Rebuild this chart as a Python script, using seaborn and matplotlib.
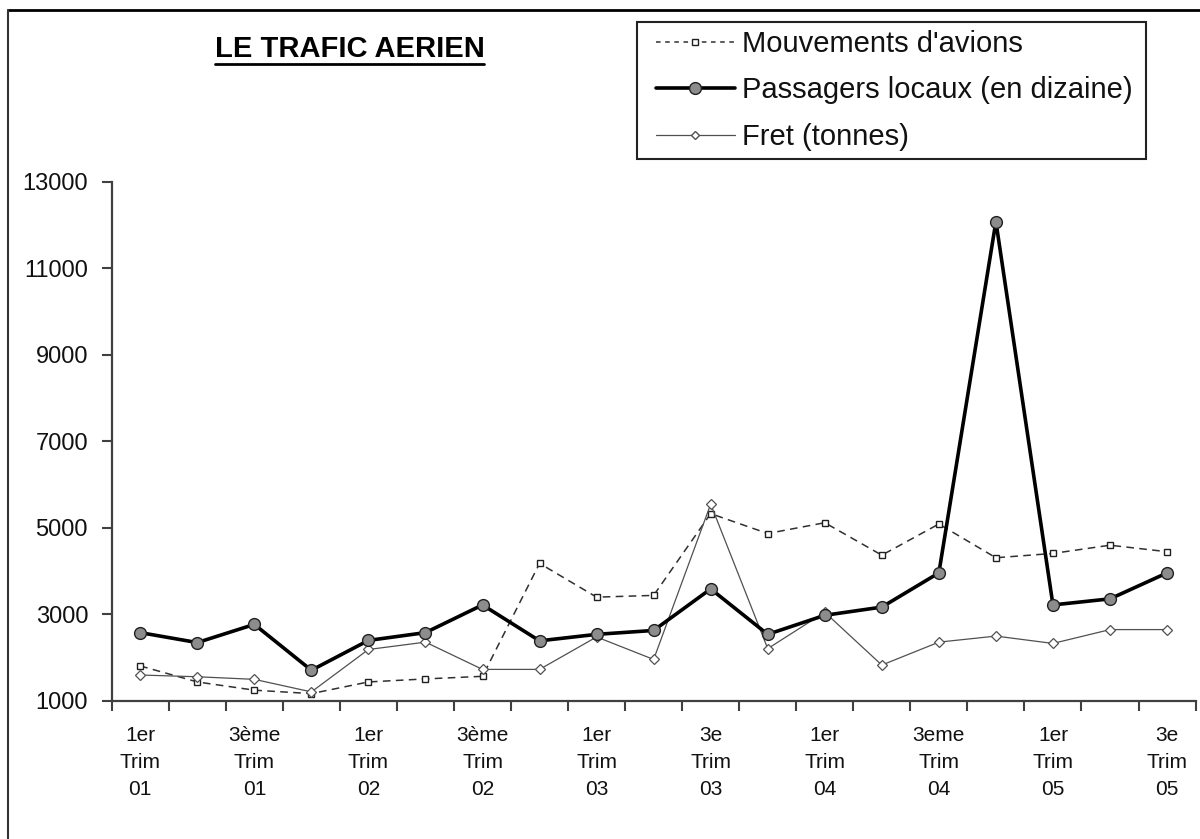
import numpy as np
import pandas as pd
import matplotlib
matplotlib.use("Agg")
import matplotlib.pyplot as plt
from matplotlib.lines import Line2D
from matplotlib.patches import Rectangle
import seaborn as sns

# --- data ---
quarters = ["1er\nTrim\n01", "2e\nTrim\n01", "3ème\nTrim\n01", "4e\nTrim\n01",
            "1er\nTrim\n02", "2e\nTrim\n02", "3ème\nTrim\n02", "4e\nTrim\n02",
            "1er\nTrim\n03", "2e\nTrim\n03", "3e\nTrim\n03", "4e\nTrim\n03",
            "1er\nTrim\n04", "2e\nTrim\n04", "3eme\nTrim\n04", "4e\nTrim\n04",
            "1er\nTrim\n05", "2e\nTrim\n05", "3e\nTrim\n05"]
mouvements = [1810, 1440, 1250, 1170, 1440, 1510, 1570, 4180, 3400, 3440,
              5330, 4870, 5120, 4370, 5090, 4310, 4410, 4600, 4450]
passagers = [2580, 2350, 2770, 1710, 2400, 2580, 3220, 2390, 2540, 2630,
             3590, 2540, 2980, 3170, 3960, 12080, 3220, 3360, 3960]
fret = [1600, 1560, 1500, 1210, 2190, 2360, 1730, 1730, 2480, 1960,
        5550, 2210, 3050, 1830, 2360, 2500, 2330, 2650, 2650]

legend_labels = ["Mouvements d'avions", "Passagers locaux (en dizaine)", "Fret (tonnes)"]
y_ticks = [1000, 3000, 5000, 7000, 9000, 11000, 13000]

df = pd.DataFrame({"pos": np.arange(len(quarters)),
                   "mouvements": mouvements,
                   "passagers": passagers,
                   "fret": fret})

sns.set_style("white")
plt.rcParams["font.family"] = ["Liberation Sans", "DejaVu Sans"]

fig = plt.figure(figsize=(12, 8.39), dpi=100)
ax = fig.add_axes([0.0931, 0.1645, 0.9032, 0.6189])

sns.lineplot(data=df, x="pos", y="mouvements", ax=ax, color="#303030",
             linewidth=1.1, linestyle=(0, (5, 3.5)), marker="s", markersize=5,
             markerfacecolor="white", markeredgecolor="#202020",
             markeredgewidth=1.0, label=legend_labels[0], zorder=3)
sns.lineplot(data=df, x="pos", y="fret", ax=ax, color="#505050",
             linewidth=0.9, marker="D", markersize=5,
             markerfacecolor="white", markeredgecolor="#505050",
             markeredgewidth=0.9, label=legend_labels[2], zorder=4)
sns.lineplot(data=df, x="pos", y="passagers", ax=ax, color="black",
             linewidth=2.6, marker="o", markersize=8.5,
             markerfacecolor="#8c8c8c", markeredgecolor="#202020",
             markeredgewidth=1.0, label=legend_labels[1], zorder=5)

ax.set_xlim(-0.5, len(quarters) - 0.5)
ax.set_ylim(1000, 13000)
ax.set_xlabel("")
ax.set_ylabel("")

# y axis
ax.set_yticks(y_ticks)
ax.set_yticklabels([str(v) for v in y_ticks])
ax.tick_params(axis="y", which="major", direction="out", length=7, width=1.5,
               color="#404040", pad=10, labelsize=17, labelcolor="#111111", left=True)

# x axis: ticks between categories, labels every other category
ax.set_xticks(np.arange(len(quarters) + 1) - 0.5)
ax.set_xticklabels([])
ax.tick_params(axis="x", which="major", direction="out", length=7, width=1.5,
               color="#404040", bottom=True)
ax.set_xticks(np.arange(0, len(quarters), 2), minor=True)
ax.set_xticklabels([quarters[i] for i in range(0, len(quarters), 2)], minor=True,
                   fontsize=15, linespacing=1.55, color="#111111")
ax.tick_params(axis="x", which="minor", length=0, pad=18, bottom=True)

for side in ["top", "right"]:
    ax.spines[side].set_visible(False)
for side in ["left", "bottom"]:
    ax.spines[side].set_color("#404040")
    ax.spines[side].set_linewidth(1.6)
ax.grid(False)

# legend in a plain box
handles = [
    Line2D([], [], color="#303030", linewidth=1.1, linestyle=(0, (3, 3)), marker="s",
           markersize=5, markerfacecolor="white", markeredgecolor="#202020"),
    Line2D([], [], color="black", linewidth=2.6, marker="o", markersize=8.5,
           markerfacecolor="#8c8c8c", markeredgecolor="#202020"),
    Line2D([], [], color="#505050", linewidth=0.9, marker="D", markersize=4,
           markerfacecolor="white", markeredgecolor="#505050"),
]
ax.legend(handles, legend_labels, loc="upper left",
          bbox_to_anchor=(656 / 1200, 1 - 30 / 839), bbox_transform=fig.transFigure,
          frameon=False, fontsize=21, handlelength=2.7, handletextpad=0.25,
          borderpad=0, borderaxespad=0, labelspacing=0.63, labelcolor="#111111")
fig.add_artist(Rectangle((637 / 1200, 1 - 159 / 839), 509 / 1200, 137 / 839,
                         transform=fig.transFigure, fill=False,
                         edgecolor="#222222", linewidth=1.5))

# title with underline
fig.text(349.5 / 1200, 1 - 57.3 / 839, "LE TRAFIC AERIEN", ha="center",
         va="baseline", fontsize=21, fontweight="bold", color="black")
fig.add_artist(Line2D([215 / 1200, 484 / 1200], [1 - 63.5 / 839, 1 - 63.5 / 839],
                      transform=fig.transFigure, color="black", linewidth=2))

# outer border (top and left)
fig.add_artist(Line2D([8 / 1200, 1.0], [1 - 10 / 839, 1 - 10 / 839],
                      transform=fig.transFigure, color="black", linewidth=2))
fig.add_artist(Line2D([8 / 1200, 8 / 1200], [0.0, 1 - 10 / 839],
                      transform=fig.transFigure, color="#333333", linewidth=1.5))

fig.savefig("out.png", dpi=100)
